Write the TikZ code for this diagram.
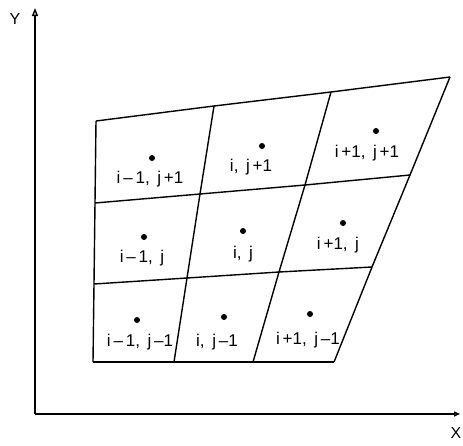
\documentclass[tikz,border=0pt]{standalone}
\usepackage{fontspec}
\setmainfont{Liberation Sans}
\usetikzlibrary{arrows.meta}
\begin{document}
\begin{tikzpicture}[x=1pt,y=-1pt,
  gridline/.style={line width=1.4pt, line join=round},
  axisline/.style={line width=1.4pt},
  ctr/.style={circle, fill=black, inner sep=0pt, minimum size=6pt},
  lab/.style={font=\fontsize{17}{19}\selectfont, inner sep=0pt},
  axlab/.style={font=\fontsize{16}{18}\selectfont, inner sep=0pt}]
\useasboundingbox (0,0) rectangle (463,445);
% grid vertices
\coordinate (A0) at (96,121);  \coordinate (A1) at (214,106); \coordinate (A2) at (331,92);  \coordinate (A3) at (450,77);
\coordinate (B0) at (95,203);  \coordinate (B1) at (200,194); \coordinate (B2) at (305,185); \coordinate (B3) at (410,175);
\coordinate (C0) at (94,284);  \coordinate (C1) at (187,278); \coordinate (C2) at (279,272); \coordinate (C3) at (372,267);
\coordinate (D0) at (93,362);  \coordinate (D1) at (174,362); \coordinate (D2) at (253,362); \coordinate (D3) at (334,362);
% axes
\coordinate (O) at (35,414);
\coordinate (Ytip) at (35,8);
\coordinate (Xtip) at (460,414);
\draw[axisline,-{Triangle[open,length=8pt,width=6pt]}] (O) -- (Ytip);
\draw[axisline,-{Triangle[open,length=6pt,width=5pt]}] (O) -- (Xtip);
\node[axlab] (ylab) at (15,19) {Y};
\node[axlab] (xlab) at (456,433) {X};
% grid lines
\draw[gridline] (A0) -- (A1) -- (A2) -- (A3);
\draw[gridline] (B0) -- (B1) -- (B2) -- (B3);
\draw[gridline] (C0) -- (C1) -- (C2) -- (C3);
\draw[gridline] (D0) -- (D1) -- (D2) -- (D3);
\draw[gridline] (A0) -- (B0) -- (C0) -- (D0);
\draw[gridline] (A1) -- (B1) -- (C1) -- (D1);
\draw[gridline] (A2) -- (B2) -- (C2) -- (D2);
\draw[gridline] (A3) -- (B3) -- (C3) -- (D3);
% centres and labels
\node[ctr] (p11) at (152,158) {}; \node[lab] (l11) at (150,179) {i\,–\,1,\, j\,+1};
\node[ctr] (p21) at (262,146) {}; \node[lab] (l21) at (251,167) {i,\, j\,+1};
\node[ctr] (p31) at (376,131) {}; \node[lab] (l31) at (367,153) {i\,+1,\, j\,+1};
\node[ctr] (p12) at (144,237) {}; \node[lab] (l12) at (142,258) {i\,–\,1,\, j};
\node[ctr] (p22) at (243,231) {}; \node[lab] (l22) at (243,254) {i,\, j};
\node[ctr] (p32) at (343,223) {}; \node[lab] (l32) at (338,245) {i\,+1,\, j};
\node[ctr] (p13) at (137,320) {}; \node[lab] (l13) at (140,342) {i\,–\,1,\, j\,–1};
\node[ctr] (p23) at (224,317) {}; \node[lab] (l23) at (217,342) {i,\, j\,–1};
\node[ctr] (p33) at (310,314) {}; \node[lab] (l33) at (308,340) {i\,+1,\, j\,–1};
\end{tikzpicture}
\end{document}
